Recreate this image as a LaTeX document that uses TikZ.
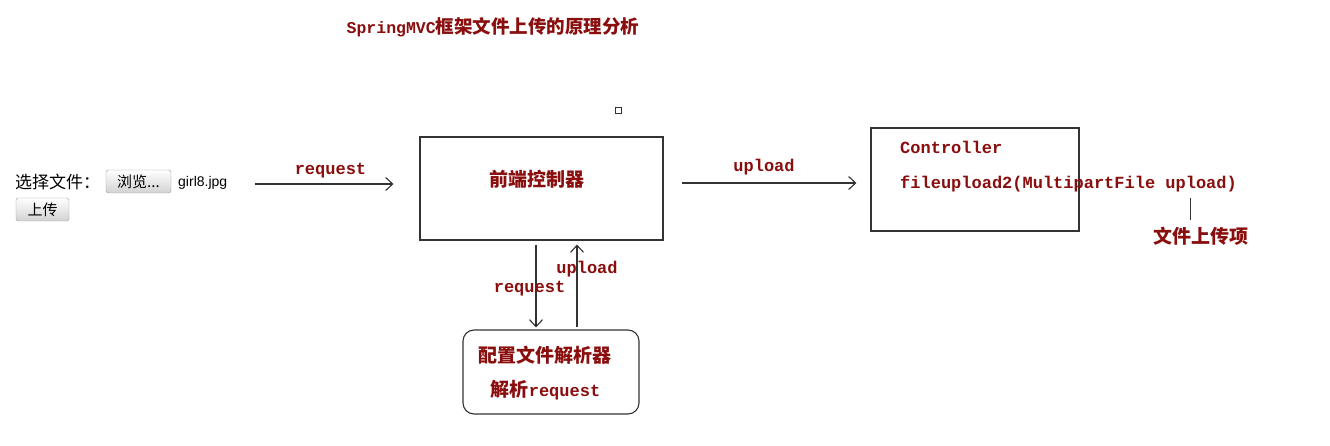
\documentclass[tikz,border=0pt]{standalone}
\usepackage{fontspec}
\usetikzlibrary{arrows.meta,positioning}
\newfontfamily\cjk{Noto Sans CJK SC}
\newfontfamily\mono{Liberation Mono}
\setmainfont{Liberation Sans}
\definecolor{darkred}{HTML}{8A0E0E}
\definecolor{linegray}{HTML}{333333}
\tikzset{
  arr/.style={draw=linegray, line width=1.1pt, -{Straight Barb[length=7pt,width=13pt]}},
  box/.style={draw=linegray, line width=1.1pt, inner sep=0pt},
  redcjk/.style={text=darkred, font=\cjk\bfseries\fontsize{19}{22}\selectfont, inner sep=0pt},
  redmono/.style={text=darkred, font=\mono\bfseries\fontsize{17}{20}\selectfont, inner sep=0pt},
  btn/.style={draw=gray!80, rounded corners=2.5pt, top color=white, bottom color=gray!35,
    font=\cjk\fontsize{15}{18}\selectfont, inner sep=0pt}
}
\begin{document}
\begin{tikzpicture}[x=1pt,y=1pt]
        \useasboundingbox[fill=white] (0,0) rectangle (1330,445);

        %% TITLE
        \node[inner sep=0pt, text=darkred] (title) at (493,418)
          {{\mono\bfseries\fontsize{16.5}{20}\selectfont SpringMVC}{\cjk\bfseries\fontsize{18.5}{22}\selectfont 框架文件上传的原理分析}};
        % small handle
        \draw[linegray, line width=0.8pt] (615,332) rectangle (621,338);

        %% UPLOAD FORM
        \node[anchor=west, inner sep=0pt, font=\cjk\fontsize{17}{20}\selectfont] (choose) at (15,263) {选择文件：};
        \node[btn, minimum width=65pt, minimum height=23pt] (browse) at (138.5,263.5) {浏览...};
        \node[anchor=west, inner sep=0pt, font=\fontsize{14}{16}\selectfont] (file) at (178,262) {girl8.jpg};
        \node[btn, minimum width=53pt, minimum height=23pt] (send) at (42.5,235.5) {上传};

        %% FRONT CONTROLLER
        \node[box, minimum width=243pt, minimum height=103pt] (front) at (541.5,256.5) {};
        \node[redcjk] (frontlabel) at (537,266) {前端控制器};

        %% CONTROLLER
        \node[box, minimum width=208pt, minimum height=103pt] (ctrl) at (975,265.5) {};
        \node[redmono, anchor=west] (ctrlname) at (900,298) {Controller};
        \node[redmono, anchor=west] (method) at (900,261) {fileupload2(MultipartFile upload)};
        % parameter note
        \node[redcjk] (param) at (1201,209) {文件上传项};
        \draw[linegray, line width=1pt, shorten >=7pt] (1190,247) -- (param.north -| 1190,0);

        %% MULTIPART RESOLVER
        \node[box, rounded corners=11pt, minimum width=176pt, minimum height=84pt] (parser) at (551,73) {};
        \node[redcjk] (parserlabel) at (544.5,90) {配置文件解析器};
        \node[redcjk] (parsetext) at (545.5,55) {解析{\mono\fontsize{17}{20}\selectfont request}};

        %% ARROWS
        % form -> front controller
        \draw[arr, shorten <=28pt, shorten >=26pt] (file.east |- 0,261) -- (front.west |- 0,261);
        \node[redmono] (reqlabel) at (330.5,274) {request};
        % front controller -> controller
        \draw[arr, shorten <=18pt, shorten >=14pt] (front.east |- 0,262) -- (ctrl.west |- 0,262);
        \node[redmono] (uplabel) at (764,278) {upload};
        % front controller -> resolver
        \draw[arr, shorten <=4pt, shorten >=2pt] (front.south -| 536,0) -- (parser.north -| 536,0);
        \node[redmono] (downlabel) at (529.5,156) {request};
        % resolver -> front controller
        \draw[arr, shorten <=2pt, shorten >=4pt] (parser.north -| 577,0) -- (front.south -| 577,0);
        \node[redmono] (backlabel) at (587,176) {upload};
\end{tikzpicture}
\end{document}
